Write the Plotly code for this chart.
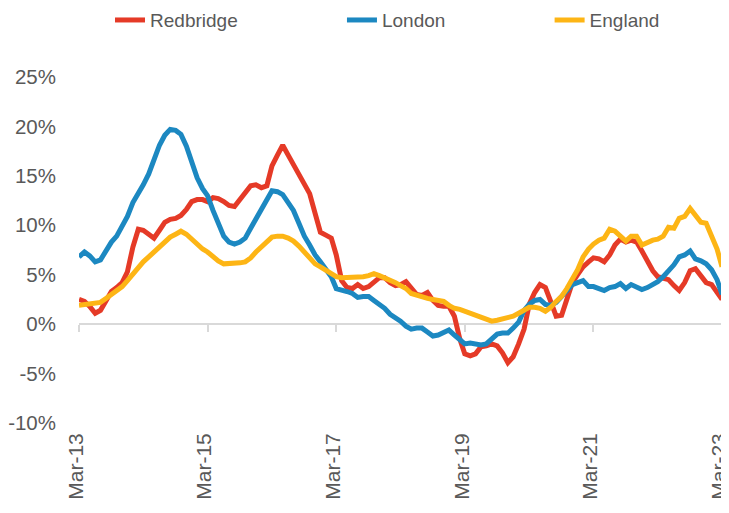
import pandas as pd
import plotly.graph_objects as go

months = pd.date_range("2013-03-01", periods=121, freq="MS")
tick_dates = ["2013-03-01", "2015-03-01", "2017-03-01", "2019-03-01", "2021-03-01", "2023-03-01"]
tick_labels = ["Mar-13", "Mar-15", "Mar-17", "Mar-19", "Mar-21", "Mar-23"]
y_ticks = [-10, -5, 0, 5, 10, 15, 20, 25]
y_labels = ["-10%", "-5%", "0%", "5%", "10%", "15%", "20%", "25%"]

redbridge = [
    2.5, 2.3, 1.8, 1.1, 1.4, 2.4, 3.3, 3.7, 4.2, 5.3,
    7.8, 9.6, 9.5, 9.1, 8.7, 9.5, 10.3, 10.6, 10.7, 11.0,
    11.6, 12.4, 12.6, 12.6, 12.4, 12.8, 12.7, 12.4, 12.0, 11.9,
    12.6, 13.4, 14.0, 14.1, 13.8, 14.0, 16.0, 17.1, 18.1, 17.1,
    16.1, 15.0, 14.0, 13.2, 11.2, 9.3, 9.0, 8.7, 7.0, 4.4,
    3.7, 3.6, 4.0, 3.6, 3.8, 4.3, 4.7, 4.7, 4.2, 3.9,
    4.0, 4.3, 3.6, 3.0, 2.9, 3.2, 2.4, 1.9, 1.8, 1.8,
    0.8, -1.5, -3.0, -3.2, -3.0, -2.3, -2.2, -2.0, -2.2, -2.9,
    -3.9, -3.3, -2.0, -0.5, 2.0, 3.2, 4.0, 3.7, 2.3, 0.8,
    0.9, 2.5, 4.2, 5.0, 5.8, 6.3, 6.7, 6.6, 6.3, 7.0,
    8.0, 8.6, 8.3, 8.5, 8.3, 7.4, 6.3, 5.4, 4.8, 4.7,
    4.5, 3.9, 3.4, 4.2, 5.4, 5.6, 4.8, 4.2, 4.0, 3.3,
    2.5,
]

london = [
    6.8, 7.3, 6.9, 6.3, 6.5, 7.5, 8.3, 8.9, 10.0, 10.9,
    12.3, 13.2, 14.1, 15.2, 16.8, 18.1, 19.1, 19.7, 19.6, 19.2,
    18.0, 16.5, 14.8, 13.7, 13.0, 11.5, 10.2, 8.9, 8.3, 8.1,
    8.3, 8.7, 9.7, 10.6, 11.7, 12.5, 13.5, 13.4, 13.1, 12.3,
    11.5, 10.2, 8.9, 8.0, 7.0, 6.3, 5.5, 4.8, 3.6, 3.5,
    3.3, 3.1, 2.7, 2.8, 2.8, 2.4, 2.0, 1.6, 1.0, 0.7,
    0.3, -0.2, -0.5, -0.4, -0.4, -0.8, -1.2, -1.1, -0.8, -0.6,
    -1.1, -1.6, -2.0, -1.9, -2.0, -2.1, -2.0, -1.5, -1.0, -0.9,
    -0.9, -0.4, 0.2, 1.4, 2.0, 2.4, 2.5, 2.0, 1.9, 2.2,
    2.8, 3.3, 4.0, 4.2, 4.4, 3.8, 3.8, 3.6, 3.4, 3.7,
    3.8, 4.1, 3.6, 4.0, 3.8, 3.5, 3.7, 4.0, 4.3, 4.8,
    5.4, 6.0, 6.8, 7.0, 7.4, 6.6, 6.4, 6.1, 5.5, 4.5,
    3.0,
]

england = [
    1.9, 2.0, 2.0, 2.1, 2.2, 2.6, 3.0, 3.4, 3.8, 4.4,
    5.1, 5.8, 6.3, 6.8, 7.3, 7.9, 8.4, 8.8, 9.1, 9.4,
    9.1, 8.6, 8.0, 7.6, 7.3, 6.8, 6.4, 6.1, 6.1, 6.2,
    6.2, 6.3, 6.7, 7.3, 7.8, 8.3, 8.8, 8.9, 8.9, 8.7,
    8.4, 7.9, 7.3, 6.6, 6.1, 5.8, 5.5, 5.2, 4.8, 4.7,
    4.7, 4.7, 4.7, 4.8, 4.9, 5.1, 4.9, 4.7, 4.5, 4.2,
    3.9, 3.6, 3.1, 2.9, 2.7, 2.6, 2.5, 2.4, 2.3, 1.9,
    1.6, 1.5, 1.3, 1.1, 0.9, 0.7, 0.5, 0.3, 0.4, 0.5,
    0.6, 0.8, 1.1, 1.4, 1.7, 1.7, 1.6, 1.3, 1.7, 2.3,
    2.8, 3.6, 4.5, 5.5, 6.8, 7.6, 8.1, 8.5, 8.7, 9.6,
    9.4, 8.9, 8.4, 8.9, 8.9, 8.0, 8.3, 8.5, 8.6, 8.9,
    9.8, 9.7, 10.7, 10.9, 11.7, 10.9, 10.3, 10.2, 8.9, 7.6,
    5.8,
]

series = [
    ("Redbridge", redbridge, "#E53A27", "legend", 0.1415),
    ("London", london, "#1C88C1", "legend2", 0.4632),
    ("England", england, "#FDB515", "legend3", 0.7512),
]

fig = go.Figure()
for name, vals, color, leg, _ in series:
    fig.add_trace(go.Scatter(
        x=months, y=vals, name=name, mode="lines",
        line=dict(color=color, width=5), legend=leg,
    ))

# invisible helper trace so the tick-mark axis at y=0 is drawn
fig.add_trace(go.Scatter(
    x=months, y=england, xaxis="x2", mode="lines",
    line=dict(color="rgba(0,0,0,0)", width=0),
    showlegend=False, hoverinfo="skip",
))

ymin, ymax = -10, 25
xr = [months[0], months[-1]]

legend_font = dict(size=19, color="#595959", family="Liberation Sans, Arial, sans-serif")
legends = {}
for name, vals, color, leg, lx in series:
    legends[leg] = dict(
        orientation="h", xref="container", yref="container",
        x=lx, y=0.976, xanchor="left", yanchor="middle",
        font=legend_font, bgcolor="rgba(0,0,0,0)",
    )

# page body has an 8px default margin, so the figure is sized 8px smaller
fig.update_layout(
    width=721, height=505,
    margin=dict(l=71, r=7, t=69, b=90, autoexpand=False),
    paper_bgcolor="white", plot_bgcolor="white",
    font=dict(family="Liberation Sans, Arial, sans-serif", color="#595959"),
    showlegend=True,
    **legends,
    xaxis=dict(
        range=xr, tickvals=tick_dates, ticktext=tick_labels, tickangle=-90,
        showgrid=False, showline=False, zeroline=False, ticks="",
        tickfont=dict(size=21, color="#595959"), automargin=False,
        ticklabelstandoff=5, ticklabeloverflow="allow", ticklabelshift=-3,
    ),
    xaxis2=dict(
        range=xr, overlaying="x", anchor="free",
        position=(0 - ymin) / (ymax - ymin),
        tickvals=tick_dates, showticklabels=False,
        ticks="outside", ticklen=7, tickwidth=2, tickcolor="#D9D9D9",
        showgrid=False, showline=False, zeroline=False, automargin=False,
    ),
    yaxis=dict(
        range=[ymin, ymax], tickvals=y_ticks, ticktext=y_labels,
        showgrid=False, showline=False,
        zeroline=True, zerolinecolor="#D9D9D9", zerolinewidth=2,
        tickfont=dict(size=20.5, color="#595959"),
        ticklabelstandoff=22, automargin=False,
    ),
)

fig.write_html("out.html")
